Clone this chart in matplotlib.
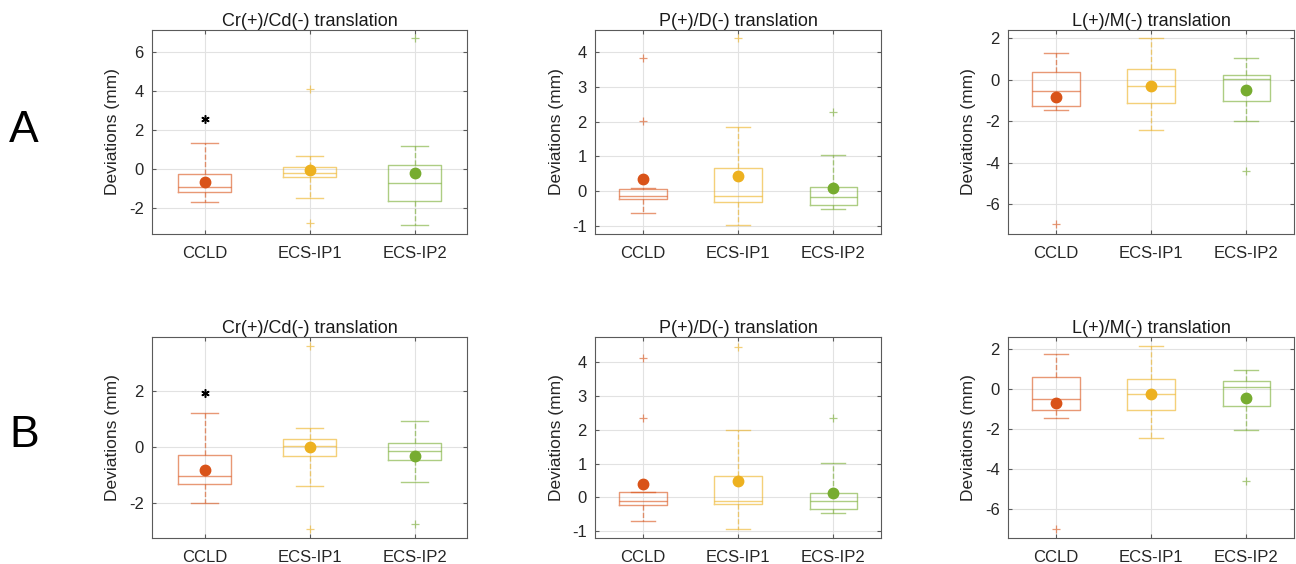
import matplotlib
matplotlib.use("Agg")
import matplotlib.pyplot as plt

plt.rcParams['font.family'] = ['Liberation Sans', 'DejaVu Sans']
plt.rcParams['axes.unicode_minus'] = False

groups = ['CCLD', 'ECS-IP1', 'ECS-IP2']
titles = ['Cr(+)/Cd(-) translation', 'P(+)/D(-) translation', 'L(+)/M(-) translation']
row_labels = ['A', 'B']

# box stats per panel: [whislo, q1, med, q3, whishi] for each group
a_crcd = [[-1.69, -1.18, -0.94, -0.26, 1.33],
          [-1.47, -0.43, -0.19, 0.10, 0.65],
          [-2.85, -1.64, -0.74, 0.19, 1.15]]
a_crcd_mean = [-0.68, -0.07, -0.22]
a_crcd_out = [[], [4.10, -2.74], [6.67]]

a_pd = [[-0.63, -0.22, -0.12, 0.07, 0.09],
        [-0.96, -0.29, -0.13, 0.66, 1.84],
        [-0.50, -0.39, -0.17, 0.13, 1.05]]
a_pd_mean = [0.35, 0.43, 0.10]
a_pd_out = [[3.81, 2.02], [4.38], [2.27]]

a_lm = [[-1.47, -1.27, -0.56, 0.39, 1.29],
        [-2.44, -1.13, -0.32, 0.53, 2.00],
        [-1.98, -1.03, 0.03, 0.24, 1.05]]
a_lm_mean = [-0.82, -0.31, -0.50]
a_lm_out = [[-6.98], [], [-4.42]]

b_crcd = [[-2.02, -1.34, -1.05, -0.31, 1.20],
          [-1.40, -0.32, 0.01, 0.26, 0.66],
          [-1.26, -0.46, -0.16, 0.14, 0.93]]
b_crcd_mean = [-0.84, -0.01, -0.34]
b_crcd_out = [[], [3.62, -2.95], [-2.77]]

b_pd = [[-0.71, -0.22, -0.09, 0.16, 0.17],
        [-0.94, -0.20, -0.09, 0.65, 2.00],
        [-0.45, -0.34, -0.11, 0.14, 1.03]]
b_pd_mean = [0.40, 0.49, 0.14]
b_pd_out = [[4.12, 2.35], [4.46], [2.36]]

b_lm = [[-1.47, -1.07, -0.52, 0.60, 1.73],
        [-2.45, -1.07, -0.27, 0.50, 2.13],
        [-2.08, -0.88, 0.08, 0.38, 0.95]]
b_lm_mean = [-0.70, -0.28, -0.48]
b_lm_out = [[-7.00], [], [-4.63]]

# significance stars (CCLD only)
a_star = 2.53
b_star = 1.94

colors = ['#d95319', '#edb120', '#77ac30']

panels = [
    [(a_crcd, a_crcd_mean, a_crcd_out, a_star), (a_pd, a_pd_mean, a_pd_out, None), (a_lm, a_lm_mean, a_lm_out, None)],
    [(b_crcd, b_crcd_mean, b_crcd_out, b_star), (b_pd, b_pd_mean, b_pd_out, None), (b_lm, b_lm_mean, b_lm_out, None)],
]
ylims = [[(-3.32, 7.1), (-1.22, 4.62), (-7.45, 2.41)],
         [(-3.27, 3.93), (-1.2, 4.75), (-7.45, 2.58)]]
yticks = [[[-2, 0, 2, 4, 6], [-1, 0, 1, 2, 3, 4], [-6, -4, -2, 0, 2]],
          [[-2, 0, 2], [-1, 0, 1, 2, 3, 4], [-6, -4, -2, 0, 2]]]

W, H = 1296, 564
fig = plt.figure(figsize=(W / 100, H / 100), dpi=100)

col_px = [(152, 467), (595, 881), (1008, 1294)]
row_px = [(30, 234), (337, 538)]

for r in range(2):
    for c in range(3):
        x0, x1 = col_px[c]
        t0, b0 = row_px[r]
        ax = fig.add_axes([x0 / W, (H - b0) / H, (x1 - x0) / W, (b0 - t0) / H])
        stats_raw, means, outs, star = panels[r][c]
        for i in range(3):
            lo, q1, med, q3, hi = stats_raw[i]
            st = [dict(whislo=lo, q1=q1, med=med, q3=q3, whishi=hi, fliers=outs[i])]
            col = colors[i]
            ax.bxp(st, positions=[i + 1], widths=0.5, showfliers=True,
                   boxprops=dict(color=col, alpha=0.6, lw=1.0),
                   medianprops=dict(color=col, alpha=0.6, lw=1.0),
                   whiskerprops=dict(color=col, alpha=0.6, lw=1.0, ls='--'),
                   capprops=dict(color=col, alpha=0.6, lw=1.0),
                   capwidths=0.25,
                   flierprops=dict(marker='+', markeredgecolor=col, alpha=0.6,
                                   markersize=6, markeredgewidth=0.9))
            ax.plot(i + 1, means[i], 'o', color=col, markersize=7.5, zorder=5)
        if star is not None:
            ax.plot(1, star, marker=(6, 2, 0), color='k', markersize=6,
                    markeredgewidth=1.1, ls='none')
        ax.set_xlim(0.5, 3.5)
        ax.set_ylim(*ylims[r][c])
        ax.set_yticks(yticks[r][c])
        ax.set_xticks([1, 2, 3])
        ax.set_xticklabels(groups)
        ax.grid(True, color='#e2e2e2', lw=0.8)
        ax.set_axisbelow(True)
        for s in ax.spines.values():
            s.set_color('#5a5a5a')
            s.set_linewidth(0.8)
        ax.tick_params(direction='in', length=3, top=True, right=True,
                       labelsize=12, colors='#5a5a5a', labelcolor='#262626', pad=6)
        ax.tick_params(axis='x', pad=9)
        ax.set_title(titles[c], fontsize=13, color='#1a1a1a', pad=3)
        ax.set_ylabel('Deviations (mm)', fontsize=12.5, color='#262626', labelpad=6)

for r, lab in enumerate(row_labels):
    yc = (row_px[r][0] + row_px[r][1]) / 2 - 2
    fig.text(24 / W, 1 - yc / H, lab, fontsize=32, ha='center', va='center')

fig.savefig('out.png', dpi=100)
